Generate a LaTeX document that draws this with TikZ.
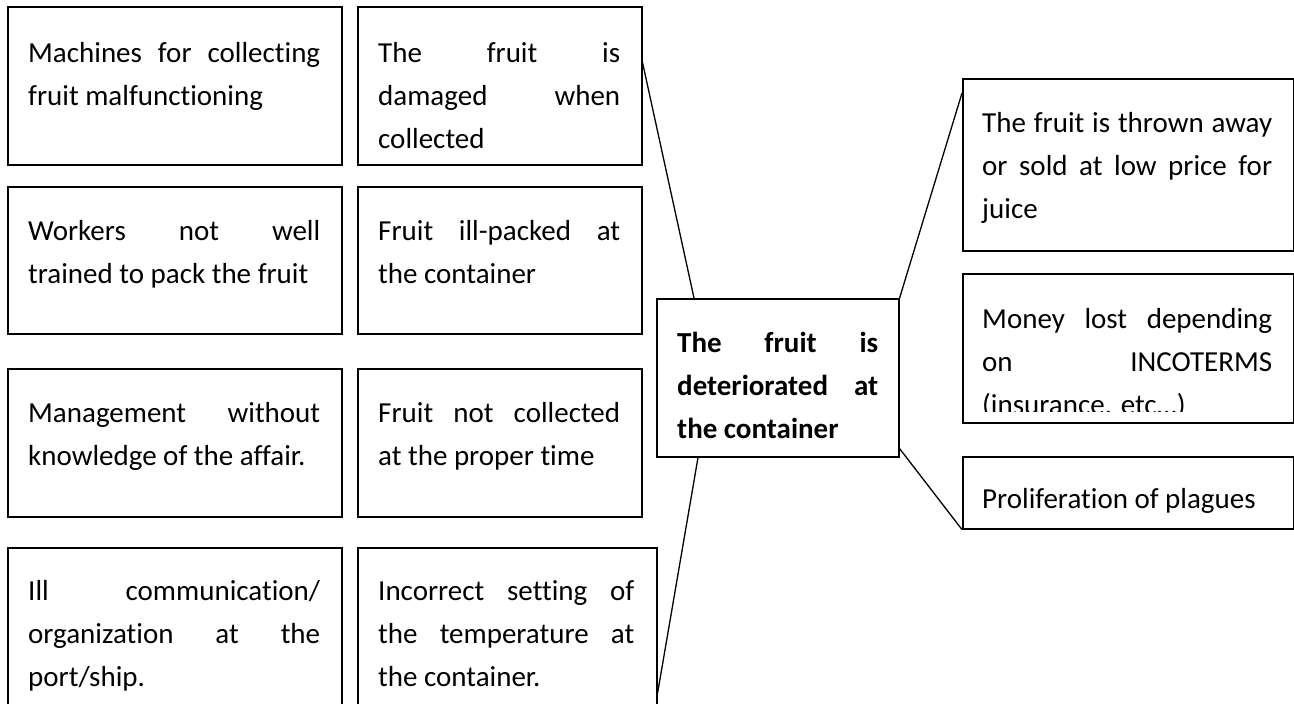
\documentclass[tikz,border=0pt]{standalone}
\usepackage{fontspec}
\setmainfont{Carlito}[Ligatures={NoCommon}]
\usetikzlibrary{calc}
\hyphenpenalty=10000
\exhyphenpenalty=10000
\tikzset{
  box/.style={draw, line width=1.6pt, anchor=north west, inner sep=0pt},
  txt/.style={anchor=north west, inner sep=0pt, align=justify,
              font=\fontsize{29}{43}\selectfont},
  conn/.style={line width=1.3pt},
}
\newcommand{\fl}{\rule{0pt}{30pt}}
\begin{document}
\begin{tikzpicture}[x=1pt, y=-1pt]
\useasboundingbox (0,0) rectangle (1294,704);

% left column
\node[box, minimum width=334pt, minimum height=158pt] (a1) at (7,6) {};
\node[txt, text width=292pt] (a1t) at ([shift={(21,26)}]a1.north west)
  {\fl Machines for collecting\linebreak fruit malfunctioning};
\node[box, minimum width=334pt, minimum height=147pt] (a2) at (7,186) {};
\node[txt, text width=292pt] (a2t) at ([shift={(21,24)}]a2.north west)
  {\fl Workers not well\linebreak trained to pack the fruit};
\node[box, minimum width=334pt, minimum height=148pt] (a3) at (7,368) {};
\node[txt, text width=292pt] (a3t) at ([shift={(21,24)}]a3.north west)
  {\fl Management without\linebreak knowledge of the affair.};
\node[box, minimum width=334pt, minimum height=165pt] (a4) at (7,547) {};
\node[txt, text width=292pt] (a4t) at ([shift={(21,23)}]a4.north west)
  {\fl Ill communication/\linebreak organization at the\linebreak port/ship.};

% second column
\node[box, minimum width=284pt, minimum height=158pt] (b1) at (357,6) {};
\node[txt, text width=242pt] (b1t) at ([shift={(21,26)}]b1.north west)
  {\fl The fruit is\linebreak damaged when\linebreak collected};
\node[box, minimum width=284pt, minimum height=147pt] (b2) at (357,186) {};
\node[txt, text width=242pt] (b2t) at ([shift={(21,24)}]b2.north west)
  {\fl Fruit ill-packed at\linebreak the container};
\node[box, minimum width=284pt, minimum height=148pt] (b3) at (357,368) {};
\node[txt, text width=242pt] (b3t) at ([shift={(21,24)}]b3.north west)
  {\fl Fruit not collected\linebreak at the proper time};
\node[box, minimum width=299pt, minimum height=165pt] (b4) at (357,547) {};
\node[txt, text width=256pt] (b4t) at ([shift={(21,23)}]b4.north west)
  {\fl Incorrect setting of\linebreak the temperature at\linebreak the container.};

% central problem
\node[box, minimum width=242pt, minimum height=158pt] (c) at (656,298) {};
\node[txt, text width=201pt] (ct) at ([shift={(21,24)}]c.north west)
  {\bfseries\fl The fruit is\linebreak deteriorated at\linebreak the container};

% right column
\node[box, minimum width=331pt, minimum height=172pt] (r1) at (962,78) {};
\node[txt, text width=290pt] (r1t) at ([shift={(20,24)}]r1.north west)
  {\fl The fruit is thrown away\linebreak or sold at low price for\linebreak juice};
\node[box, minimum width=331pt, minimum height=149pt] (r2) at (962,273) {};
\begin{scope}
  \clip (r2.north west) rectangle ([shift={(0,-12)}]r2.south east);
  \node[txt, text width=290pt] (r2t) at ([shift={(20,25)}]r2.north west)
    {\fl Money lost depending\linebreak on INCOTERMS\linebreak (insurance. etc…)};
\end{scope}
\node[box, minimum width=331pt, minimum height=72pt] (r3) at (962,456) {};
\node[txt, text width=290pt] (r3t) at ([shift={(20,22)}]r3.north west)
  {\fl Proliferation of plagues};

% connectors
\draw[conn] ($(b1.north east)!0.356!(b1.south east)$) -- ([shift={(38,0)}]c.north west);
\draw[conn] (c.north east) -- ([shift={(0,15)}]r1.north west);
\draw[conn] ([shift={(0,-9)}]c.south east) -- (r3.south west);
\draw[conn] ([shift={(42,0)}]c.south west) -- ([shift={(0,146)}]b4.north east);
\end{tikzpicture}
\end{document}
